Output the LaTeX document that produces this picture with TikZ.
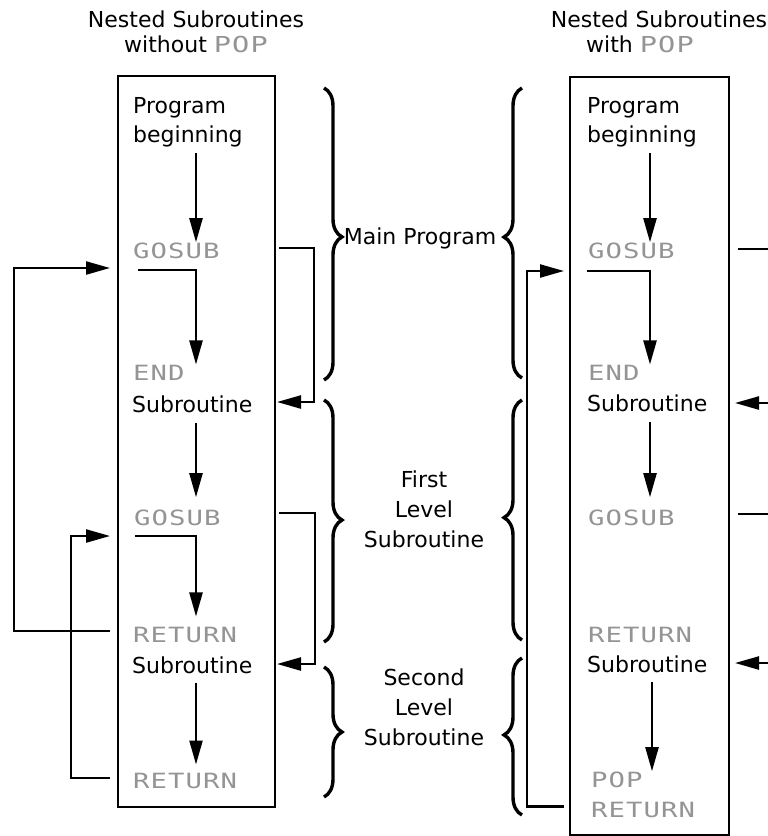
\documentclass[tikz,border=0pt]{standalone}
\usepackage{fontspec}
\setmainfont{DejaVu Sans}
\newfontfamily\dotfont[FakeStretch=1.3,LetterSpace=5]{DejaVu Sans Mono}
\usetikzlibrary{arrows.meta,decorations.pathreplacing,calc}
\tikzset{
  conn/.style={line width=2.3pt},
  arr/.style={conn,-{Triangle[length=24pt,width=13pt]}},
  boxst/.style={draw,line width=2pt,inner sep=0pt,anchor=north west},
  txt/.style={inner sep=0pt,anchor=base west,align=left,font=\fontsize{22}{29}\selectfont},
  dot/.style={inner sep=0pt,anchor=base west,align=left,text=black!42,font=\dotfont\fontsize{21}{30}\selectfont},
  lbl/.style={inner sep=0pt,anchor=base,align=center,font=\fontsize{22}{30}\selectfont},
  ttl/.style={inner sep=0pt,anchor=base,align=center,font=\fontsize{22}{25}\selectfont},
  bracest/.style={line width=3.4pt,decorate,decoration={brace,amplitude=18pt,aspect=#1}}
}
\newcommand{\dotword}[1]{{\dotfont\color{black!42}#1}}
\begin{document}
\begin{tikzpicture}[x=1pt,y=-1pt]
\useasboundingbox (0,0) rectangle (768,836);
\clip (0,0) rectangle (768,836);

% titles (base anchor = last line)
\node[ttl] (tL) at (196,52) {Nested Subroutines\\without \dotword{POP}};
\node[ttl] (tR) at (659,52) {Nested Subroutines\\with \dotword{POP}\hspace*{38pt}};

% boxes
\node[boxst,minimum width=157pt,minimum height=731pt] (boxL) at (117,75) {};
\node[boxst,minimum width=159pt,minimum height=758pt] (boxR) at (569,76) {};

% ---------- left box contents ----------
\node[txt] (pbL) at (133,142) {Program\\beginning};
\node[dot] (g1L) at (133,258) {GOSUB};
\node[dot] (e1L) at (133,380) {END};
\node[txt] (s1L) at (132,412) {Subroutine};
\node[dot] (g2L) at (134,525) {GOSUB};
\node[dot] (r1L) at (133,642) {RETURN};
\node[txt] (s2L) at (132,673) {Subroutine};
\node[dot] (r2L) at (133,788) {RETURN};

\coordinate (xL) at (196,0);
\draw[arr,shorten <=6pt] (pbL.south -| xL) -- (g1L.north -| xL);
\draw[arr] ([shift={(5,12)}]g1L.base west) -| (e1L.north -| xL);
\draw[arr,shorten <=10pt,shorten >=12pt] (s1L.south -| xL) -- (g2L.north -| xL);
\draw[arr,shorten >=10pt] ([shift={(1,11)}]g2L.base west) -| (r1L.north -| xL);
\draw[arr,shorten <=9pt,shorten >=8pt] (s2L.south -| xL) -- (r2L.north -| xL);

% left outer loops
\coordinate (xo1) at (14,0);
\coordinate (xo2) at (71,0);
\coordinate (xin) at (110,0);
\coordinate (r1a) at ([yshift=11pt]r1L.base -| xin);
\coordinate (g1a) at ([yshift=-10pt]g1L.base -| xin);
\draw[arr] (r1a) -- (r1a -| xo1) |- (g1a);
\coordinate (r2a) at ([yshift=10pt]r2L.base -| xin);
\coordinate (g2a) at ([yshift=-11pt]g2L.base -| xin);
\draw[arr] (r2a) -- (r2a -| xo2) |- (g2a);

% right-of-box returns (left box)
\coordinate (xbs) at (279,0);
\coordinate (xbt) at (277,0);
\coordinate (xr1) at (314,0);
\coordinate (xr2) at (315,0);
\draw[arr] ([yshift=10pt]g1L.base -| xbs) -| ([yshift=10pt]s1L.base -| xr1) -- ([yshift=10pt]s1L.base -| xbt);
\draw[arr] ([yshift=12pt]g2L.base -| xbs) -| ([yshift=9pt]s2L.base -| xr2) -- ([yshift=9pt]s2L.base -| xbt);

% ---------- braces and labels ----------
\draw[bracest=0.51] (324,88) -- (324,380);
\draw[bracest=0.496] (324,400) -- (324,642);
\draw[bracest=0.5] (324,667) -- (324,797);
\draw[bracest=0.486] (522,378) -- (522,88);
\draw[bracest=0.51] (522,640) -- (522,400);
\draw[bracest=0.51] (522,815) -- (522,658);

\node[lbl] (mainP) at (420,244) {Main Program};
\node[lbl] (first) at (424,547) {First\\Level\\Subroutine};
\node[lbl] (second) at (424,745) {Second\\Level\\Subroutine};

% ---------- right box contents ----------
\node[txt] (pbR) at (587,142) {Program\\beginning};
\node[dot] (g1R) at (588,258) {GOSUB};
\node[dot] (e1R) at (588,380) {END};
\node[txt] (s1R) at (587,411) {Subroutine};
\node[dot] (g2R) at (588,525) {GOSUB};
\node[dot] (r1R) at (588,642) {RETURN};
\node[txt] (s2R) at (587,672) {Subroutine};
\node[dot] (popR) at (591,817) {POP\\RETURN};

\coordinate (xR) at (650,0);
\coordinate (xR2) at (652,0);
\draw[arr,shorten <=6pt] (pbR.south -| xR) -- (g1R.north -| xR);
\draw[arr] ([shift={(-1,13)}]g1R.base west) -| (e1R.north -| xR);
\draw[arr,shorten <=10pt,shorten >=12pt] (s1R.south -| xR) -- (g2R.north -| xR);
\draw[arr,shorten <=9pt] (s2R.south -| xR2) -- (popR.north -| xR2);

% right loop
\coordinate (xRo) at (527,0);
\coordinate (xRin) at (564,0);
\coordinate (pa) at ([yshift=11pt]popR.south -| xRin);
\coordinate (ga) at ([yshift=-13pt]g1R.base -| xRin);
\draw[arr] (pa) -- (pa -| xRo) |- (ga);

% lines to the right edge
\coordinate (xE) at (780,0);
\coordinate (xRb) at (738,0);
\coordinate (xRt) at (735,0);
\draw[conn] ([yshift=9pt]g1R.base -| xRb) -- ([yshift=9pt]g1R.base -| xE);
\draw[arr] ([yshift=8pt]s1R.base -| xE) -- ([yshift=8pt]s1R.base -| xRt);
\draw[conn] ([yshift=11pt]g2R.base -| xRb) -- ([yshift=11pt]g2R.base -| xE);
\draw[arr] ([yshift=9pt]s2R.base -| xE) -- ([yshift=9pt]s2R.base -| xRt);
\end{tikzpicture}
\end{document}
